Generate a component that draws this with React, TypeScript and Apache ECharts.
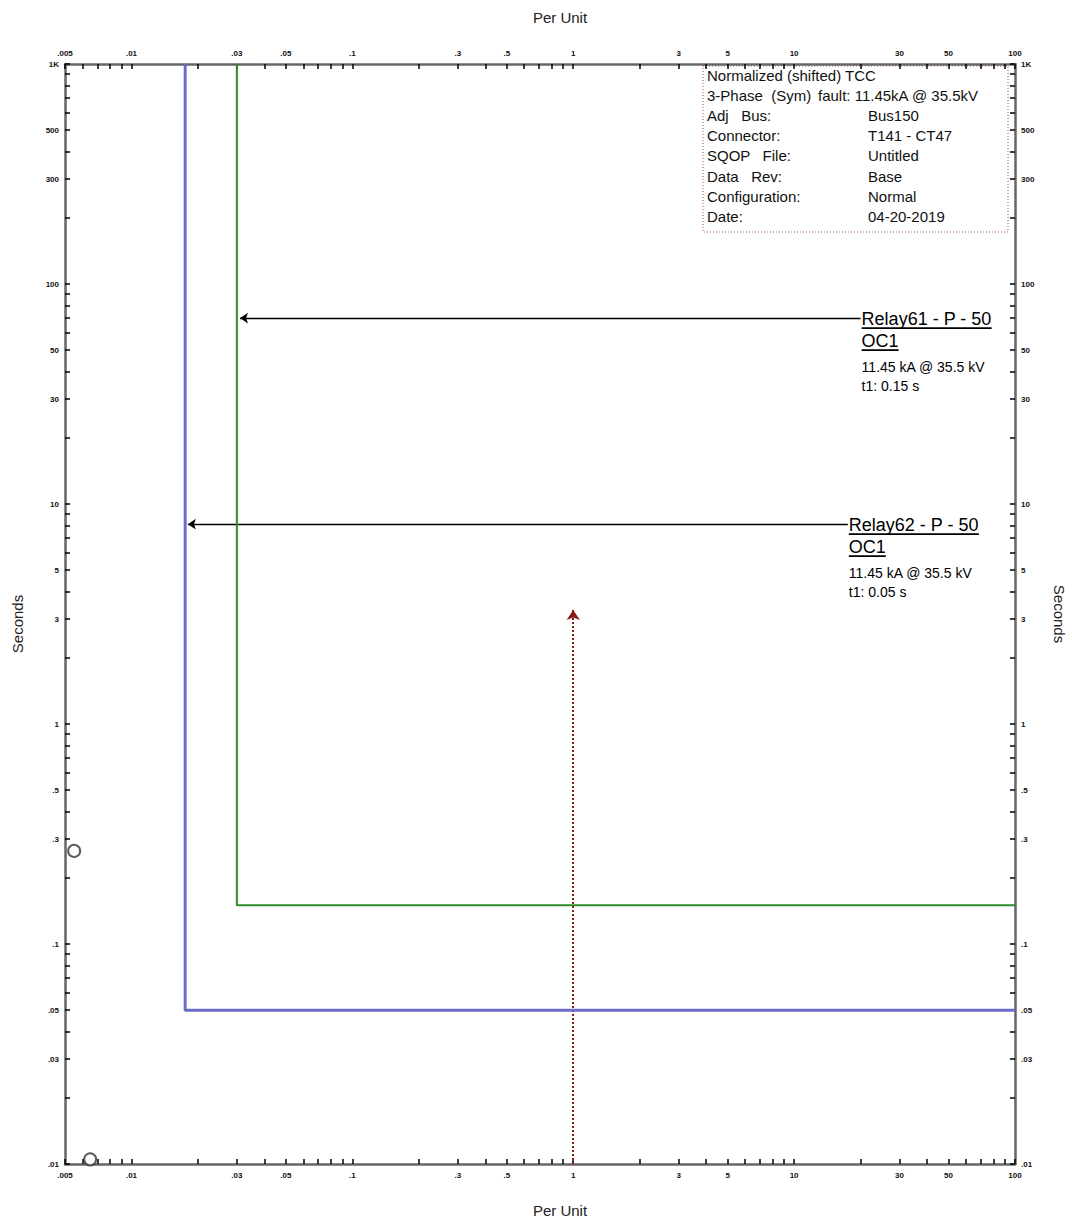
import React, { useEffect, useRef } from "react";
import * as echarts from "echarts";

// ---------- axis ticks ----------
const xTickValues = [0.005, 0.01, 0.03, 0.05, 0.1, 0.3, 0.5, 1, 3, 5, 10, 30, 50, 100];
const xTickLabels = [".005", ".01", ".03", ".05", ".1", ".3", ".5", "1", "3", "5", "10", "30", "50", "100"];
const yTickValues = [0.01, 0.03, 0.05, 0.1, 0.3, 0.5, 1, 3, 5, 10, 30, 50, 100, 300, 500, 1000];
const yTickLabels = [".01", ".03", ".05", ".1", ".3", ".5", "1", "3", "5", "10", "30", "50", "100", "300", "500", "1K"];
const tickMantissas = [1, 2, 3, 4, 5, 6, 7, 8, 9];
const xDecades = [0.001, 0.01, 0.1, 1, 10, 100];
const yDecades = [0.01, 0.1, 1, 10, 100, 1000];
const X_MIN = 0.005;
const X_MAX = 100;
const Y_MIN = 0.01;
const Y_MAX = 1000;

// ---------- curves (per unit, seconds) ----------
const relay62Curve = [[0.0175, 1000], [0.0175, 0.05], [100, 0.05]];
const relay61Curve = [[0.03, 1000], [0.03, 0.15], [100, 0.15]];
const faultLine = [[1, 0.01], [1, 3.3]];
const relay61Arrow = [[20, 70], [0.031, 70]];
const relay62Arrow = [[17.5, 8.1], [0.018, 8.1]];
const markerPoints = [[0.0055, 0.265], [0.0065, 0.0105]];

// ---------- annotations ----------
const relay61Text = ["Relay61 - P - 50", "OC1", "11.45 kA @ 35.5 kV", "t1: 0.15 s"];
const relay62Text = ["Relay62 - P - 50", "OC1", "11.45 kA @ 35.5 kV", "t1: 0.05 s"];
const infoLeft = ["Normalized (shifted) TCC", "3-Phase  (Sym)", "Adj   Bus:", "Connector:", "SQOP   File:", "Data   Rev:", "Configuration:", "Date:"];
const infoRight = ["", "fault: 11.45kA @ 35.5kV", "Bus150", "T141 - CT47", "Untitled", "Base", "Normal", "04-20-2019"];

const FONT = "Arial, 'Liberation Sans', sans-serif";

function buildTicks(decades: number[], min: number, max: number) {
  const out: number[] = [];
  decades.forEach((d) =>
    tickMantissas.forEach((m) => {
      const v = Number((d * m).toPrecision(6));
      if (v >= min * 0.999999 && v <= max * 1.000001 && out.indexOf(v) < 0) out.push(v);
    })
  );
  return out;
}

function makeFormatter(values: number[], labels: string[]) {
  return (v: number) => {
    const i = values.findIndex((t) => Math.abs(t - v) / t < 1e-6);
    return i >= 0 ? labels[i] : "";
  };
}

export default function App() {
  const ref = useRef<HTMLDivElement>(null);

  useEffect(() => {
    if (!ref.current) return;
    const chart = echarts.init(ref.current, null, { renderer: "svg" });
    const xMinor = buildTicks(xDecades, X_MIN, X_MAX);
    const yMinor = buildTicks(yDecades, Y_MIN, Y_MAX);

    const xAxisBase = (position: string) => ({
      type: "log",
      logBase: 10,
      min: X_MIN,
      max: X_MAX,
      position,
      name: "Per Unit",
      nameLocation: "middle",
      nameGap: 39,
      nameTextStyle: { fontSize: 15, color: "#222", fontFamily: FONT, padding: [0, 0, 0, 40] },
      axisLine: { show: true, onZero: false, lineStyle: { color: "#666", width: 2.5 } },
      axisTick: { show: true, inside: true, length: 5, customValues: xMinor, lineStyle: { color: "#000", width: 1.5 } },
      minorTick: { show: false },
      splitLine: { show: false },
      axisLabel: {
        show: true,
        customValues: xTickValues,
        formatter: makeFormatter(xTickValues, xTickLabels),
        fontSize: 8,
        fontWeight: "bold",
        color: "#111",
        margin: 7,
        fontFamily: FONT,
        hideOverlap: false,
      },
    });

    const yAxisBase = (position: string) => ({
      type: "log",
      logBase: 10,
      min: Y_MIN,
      max: Y_MAX,
      position,
      name: "Seconds",
      nameLocation: "middle",
      nameGap: position === "right" ? 37 : 40,
      nameRotate: position === "right" ? -90 : 90,
      nameTextStyle: {
        fontSize: 15,
        color: "#222",
        fontFamily: FONT,
        padding: position === "right" ? [0, 0, 0, 0] : [0, 20, 0, 0],
      },
      axisLine: { show: true, onZero: false, lineStyle: { color: "#666", width: 2.5 } },
      axisTick: { show: true, inside: true, length: 5, customValues: yMinor, lineStyle: { color: "#000", width: 1.5 } },
      minorTick: { show: false },
      splitLine: { show: false },
      axisLabel: {
        show: true,
        customValues: yTickValues,
        formatter: makeFormatter(yTickValues, yTickLabels),
        fontSize: 8,
        fontWeight: "bold",
        color: "#111",
        margin: 6,
        fontFamily: FONT,
        hideOverlap: false,
      },
    });

    chart.setOption({
      animation: false,
      backgroundColor: "#fff",
      grid: { left: 65, right: 57, top: 64, bottom: 59, containLabel: false, outerBoundsMode: "none" },
      xAxis: [xAxisBase("bottom"), xAxisBase("top")],
      yAxis: [yAxisBase("left"), yAxisBase("right")],
      series: [
        {
          name: "Relay62 - P - 50",
          type: "line",
          data: relay62Curve,
          symbol: "none",
          lineStyle: { color: "#6b6bc8", width: 3 },
          clip: true,
        },
        {
          name: "Relay61 - P - 50",
          type: "line",
          data: relay61Curve,
          symbol: "none",
          lineStyle: { color: "#2e8b2e", width: 2 },
          clip: true,
        },
        {
          type: "lines",
          coordinateSystem: "cartesian2d",
          data: [{ coords: faultLine }],
          symbol: ["none", "arrow"],
          symbolSize: 10,
          lineStyle: { color: "#8b1a1a", width: 2, type: [2, 2], opacity: 1 },
        },
        {
          type: "lines",
          coordinateSystem: "cartesian2d",
          data: [{ coords: relay61Arrow }, { coords: relay62Arrow }],
          symbol: ["none", "arrow"],
          symbolSize: 8,
          lineStyle: { color: "#000", width: 1.3, opacity: 1 },
        },
        {
          type: "scatter",
          data: markerPoints,
          symbol: "circle",
          symbolSize: 12,
          itemStyle: { color: "#fff", borderColor: "#333", borderWidth: 2 },
          clip: false,
        },
      ],
    });

    const ctx = document.createElement("canvas").getContext("2d")!;
    const measure = (t: string, size: number) => {
      ctx.font = `${size}px Arial, 'Liberation Sans', sans-serif`;
      return ctx.measureText(t).width;
    };
    const px = (pt: number[]) => chart.convertToPixel({ gridIndex: 0 }, pt) as number[];

    const graphics: any[] = [];
    const relayLabel = (start: number[], lines: string[]) => {
      const s = px(start);
      const x = s[0] + 1;
      const y = s[1];
      const t = (text: string, dy: number, size: number) =>
        graphics.push({
          type: "text",
          x,
          y: y + dy,
          style: { text, fontSize: size, fontFamily: FONT, fill: "#000", align: "left", verticalAlign: "middle" },
        });
      const u = (w: number, dy: number) =>
        graphics.push({
          type: "line",
          shape: { x1: x, y1: y + dy, x2: x + w, y2: y + dy },
          style: { stroke: "#000", lineWidth: 1.6 },
        });
      t(lines[0], 1, 18);
      u(measure(lines[0], 18), 10);
      t(lines[1], 23, 18);
      u(measure(lines[1], 18), 32);
      t(lines[2], 49, 14);
      t(lines[3], 68, 14);
    };
    relayLabel(relay61Arrow[0], relay61Text);
    relayLabel(relay62Arrow[0], relay62Text);

    const tr = px([X_MAX, Y_MAX]);
    const boxX = tr[0] - 312;
    const boxY = tr[1] + 2;
    graphics.push({
      type: "rect",
      shape: { x: boxX, y: boxY, width: 305, height: 166 },
      style: { fill: "none", stroke: "#a04848", lineWidth: 1, lineDash: [1, 2] },
    });
    infoLeft.forEach((txt, i) => {
      graphics.push({
        type: "text",
        x: boxX + 4,
        y: boxY + 9 + i * 20.2,
        style: { text: txt, fontSize: 15, fontFamily: FONT, fill: "#111", align: "left", verticalAlign: "middle" },
      });
      const r = infoRight[i];
      if (r) {
        graphics.push({
          type: "text",
          x: boxX + (i === 1 ? 115 : 165),
          y: boxY + 9 + i * 20.2,
          style: { text: r, fontSize: 15, fontFamily: FONT, fill: "#111", align: "left", verticalAlign: "middle" },
        });
      }
    });

    chart.setOption({ graphic: graphics });

    return () => chart.dispose();
  }, []);

  return (
    <div
      ref={ref}
      style={{ position: "absolute", left: 0, top: 0, width: 1072, height: 1223, background: "#fff" }}
    />
  );
}
